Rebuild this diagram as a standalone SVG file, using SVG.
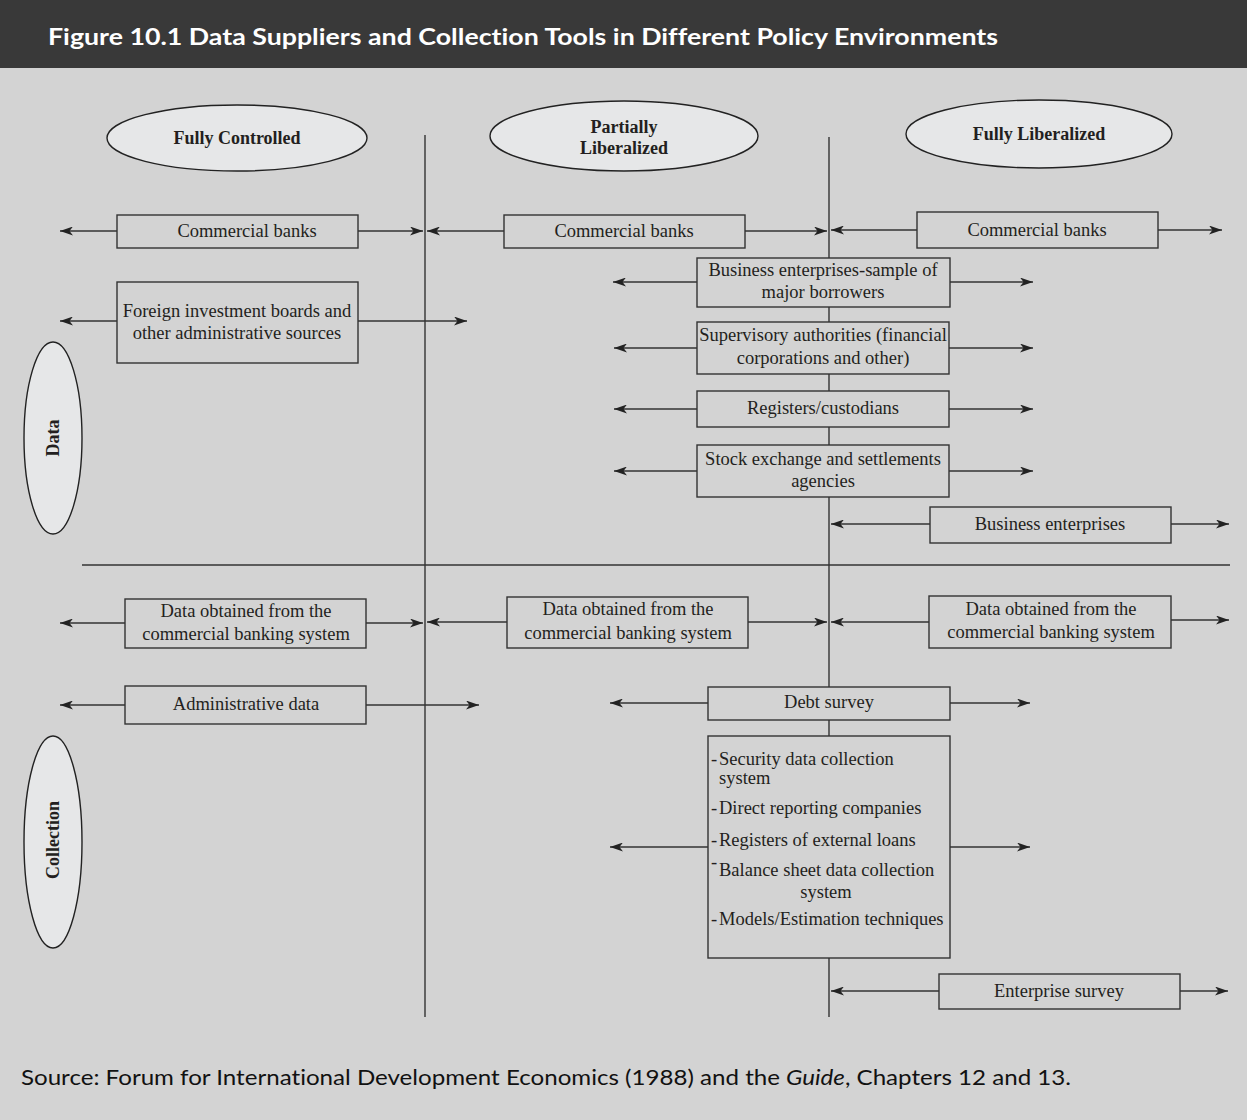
<svg xmlns="http://www.w3.org/2000/svg" width="1247" height="1120" viewBox="0 0 1247 1120">
<style>
.bg{fill:#d3d3d3}
.box{fill:#d3d3d3;stroke:#333;stroke-width:1.4}
.ell{fill:#e6e7e8;stroke:#222;stroke-width:1.4}
.ln{stroke:#333;stroke-width:1.4;fill:none}
.ar{stroke:#333;stroke-width:1.4;fill:none;marker-end:url(#ah)}
.t{font-family:"Liberation Serif","Times New Roman",serif;font-size:18.5px;fill:#231f20;text-anchor:middle}
.tl{font-family:"Liberation Serif","Times New Roman",serif;font-size:18.5px;fill:#231f20}
.h{font-family:"Liberation Serif","Times New Roman",serif;font-size:18px;font-weight:bold;fill:#231f20;text-anchor:middle}
.s{font-family:Lato,"Open Sans",sans-serif;font-variant-ligatures:none;font-feature-settings:"liga" 0}
</style>
<defs>
<marker id="ah" viewBox="0 0 13 9" refX="13" refY="4.5" markerWidth="13" markerHeight="9" orient="auto" markerUnits="userSpaceOnUse">
<path d="M0,0 L13,4.5 L0,9 L3.5,4.5 z" fill="#222"/>
</marker>
</defs>
<rect class="bg" x="0" y="0" width="1247" height="1120"/>
<rect x="0" y="0" width="1247" height="68" fill="#393939"/>
<text class="s" x="48" y="45" font-weight="bold" font-size="23" fill="#ffffff" textLength="950" lengthAdjust="spacingAndGlyphs">Figure 10.1  Data Suppliers and Collection Tools in Different Policy Environments</text>

<g id="axes">
<line class="ln" x1="425" y1="135" x2="425" y2="1017"/>
<line class="ln" x1="829" y1="137" x2="829" y2="1017"/>
<line class="ln" x1="82" y1="565" x2="1230" y2="565"/>
</g>

<g id="connectors">
<line class="ar" x1="117" y1="231" x2="60" y2="231"/>
<line class="ar" x1="358" y1="231" x2="423" y2="231"/>
<line class="ar" x1="504" y1="231" x2="427" y2="231"/>
<line class="ar" x1="745" y1="231" x2="827" y2="231"/>
<line class="ar" x1="917" y1="230" x2="831" y2="230"/>
<line class="ar" x1="1158" y1="230" x2="1222" y2="230"/>
<line class="ar" x1="117" y1="321" x2="60" y2="321"/>
<line class="ar" x1="358" y1="321" x2="467" y2="321"/>
<line class="ar" x1="697" y1="282" x2="613" y2="282"/>
<line class="ar" x1="950" y1="282" x2="1033" y2="282"/>
<line class="ar" x1="697" y1="348" x2="614" y2="348"/>
<line class="ar" x1="949" y1="348" x2="1033" y2="348"/>
<line class="ar" x1="697" y1="409" x2="614" y2="409"/>
<line class="ar" x1="949" y1="409" x2="1033" y2="409"/>
<line class="ar" x1="697" y1="471" x2="614" y2="471"/>
<line class="ar" x1="949" y1="471" x2="1033" y2="471"/>
<line class="ar" x1="930" y1="524" x2="831" y2="524"/>
<line class="ar" x1="1171" y1="524" x2="1229" y2="524"/>
<line class="ar" x1="125" y1="623" x2="60" y2="623"/>
<line class="ar" x1="366" y1="623" x2="423" y2="623"/>
<line class="ar" x1="507" y1="622" x2="427" y2="622"/>
<line class="ar" x1="748" y1="622" x2="827" y2="622"/>
<line class="ar" x1="929" y1="622" x2="831" y2="622"/>
<line class="ar" x1="1171" y1="620" x2="1229" y2="620"/>
<line class="ar" x1="125" y1="705" x2="60" y2="705"/>
<line class="ar" x1="366" y1="705" x2="479" y2="705"/>
<line class="ar" x1="708" y1="703" x2="610" y2="703"/>
<line class="ar" x1="950" y1="703" x2="1030" y2="703"/>
<line class="ar" x1="708" y1="847" x2="610" y2="847"/>
<line class="ar" x1="950" y1="847" x2="1030" y2="847"/>
<line class="ar" x1="939" y1="991" x2="831" y2="991"/>
<line class="ar" x1="1180" y1="991" x2="1228" y2="991"/>
</g>

<g id="h-controlled"><ellipse class="ell" cx="237" cy="138" rx="130" ry="33"/><text class="h" x="237" y="144">Fully Controlled</text></g>
<g id="h-partial"><ellipse class="ell" cx="624" cy="136" rx="134" ry="35"/><text class="h" x="624" y="133">Partially</text><text class="h" x="624" y="154">Liberalized</text></g>
<g id="h-liberal"><ellipse class="ell" cx="1039" cy="134" rx="133" ry="34"/><text class="h" x="1039" y="140">Fully Liberalized</text></g>
<g id="h-data"><ellipse class="ell" cx="53" cy="438" rx="29" ry="96"/><text class="h" transform="translate(59,438) rotate(-90)">Data</text></g>
<g id="h-collection"><ellipse class="ell" cx="53" cy="842" rx="29" ry="106"/><text class="h" transform="translate(59,840) rotate(-90)">Collection</text></g>

<g id="n-cb1"><rect class="box" x="117" y="215" width="241" height="33"/><text class="t" x="247" y="237">Commercial banks</text></g>
<g id="n-cb2"><rect class="box" x="504" y="215" width="241" height="33"/><text class="t" x="624" y="237">Commercial banks</text></g>
<g id="n-cb3"><rect class="box" x="917" y="212" width="241" height="36"/><text class="t" x="1037" y="236">Commercial banks</text></g>
<g id="n-fib"><rect class="box" x="117" y="282" width="241" height="81"/><text class="t" x="237" y="317">Foreign investment boards and</text><text class="t" x="237" y="339">other administrative sources</text></g>
<g id="n-bes"><rect class="box" x="697" y="258" width="253" height="49"/><text class="t" x="823" y="276">Business enterprises-sample of</text><text class="t" x="823" y="298">major borrowers</text></g>
<g id="n-sup"><rect class="box" x="697" y="322" width="252" height="52"/><text class="t" x="823" y="341">Supervisory authorities (financial</text><text class="t" x="823" y="364">corporations and other)</text></g>
<g id="n-reg"><rect class="box" x="697" y="391" width="252" height="36"/><text class="t" x="823" y="414">Registers/custodians</text></g>
<g id="n-stock"><rect class="box" x="697" y="445" width="252" height="52"/><text class="t" x="823" y="465">Stock exchange and settlements</text><text class="t" x="823" y="487">agencies</text></g>
<g id="n-be"><rect class="box" x="930" y="507" width="241" height="36"/><text class="t" x="1050" y="530">Business enterprises</text></g>
<g id="n-dcb1"><rect class="box" x="125" y="599" width="241" height="49"/><text class="t" x="246" y="617">Data obtained from the</text><text class="t" x="246" y="640">commercial banking system</text></g>
<g id="n-dcb2"><rect class="box" x="507" y="597" width="241" height="51"/><text class="t" x="628" y="615">Data obtained from the</text><text class="t" x="628" y="639">commercial banking system</text></g>
<g id="n-dcb3"><rect class="box" x="929" y="596" width="242" height="52"/><text class="t" x="1051" y="615">Data obtained from the</text><text class="t" x="1051" y="638">commercial banking system</text></g>
<g id="n-adm"><rect class="box" x="125" y="686" width="241" height="38"/><text class="t" x="246" y="710">Administrative data</text></g>
<g id="n-debt"><rect class="box" x="708" y="687" width="242" height="33"/><text class="t" x="829" y="708">Debt survey</text></g>
<g id="n-list"><rect class="box" x="708" y="736" width="242" height="222"/>
<text class="tl" x="711" y="765">-</text><text class="tl" x="719" y="765">Security data collection</text>
<text class="tl" x="719" y="784">system</text>
<text class="tl" x="711" y="814">-</text><text class="tl" x="719" y="814">Direct reporting companies</text>
<text class="tl" x="711" y="846">-</text><text class="tl" x="719" y="846">Registers of external loans</text>
<text class="tl" x="711" y="868">-</text><text class="tl" x="719" y="876">Balance sheet data collection</text>
<text class="t" x="826" y="898">system</text>
<text class="tl" x="711" y="925">-</text><text class="tl" x="719" y="925">Models/Estimation techniques</text>
</g>
<g id="n-ent"><rect class="box" x="939" y="974" width="241" height="35"/><text class="t" x="1059" y="997">Enterprise survey</text></g>

<text class="s" x="21" y="1085" font-size="21" fill="#111" textLength="1050" lengthAdjust="spacingAndGlyphs">Source: Forum for International Development Economics (1988) and the <tspan font-style="italic">Guide</tspan>, Chapters 12 and 13.</text>
</svg>
